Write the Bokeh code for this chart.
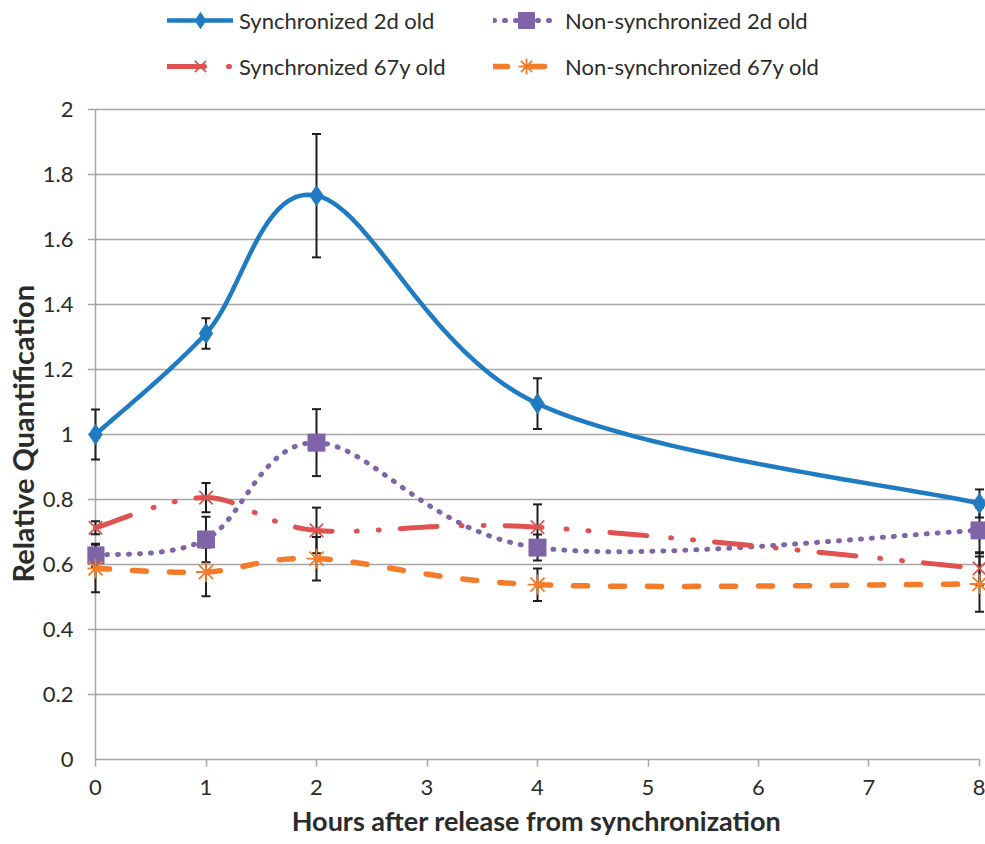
import numpy as np
from bokeh.plotting import figure
from bokeh.models import (Range1d, FixedTicker, Whisker, TeeHead, ColumnDataSource,
                          Legend, LegendItem, Title)
from bokeh.embed import file_html
from bokeh.resources import INLINE

# ---------------- data ----------------
hours = [0, 1, 2, 4, 8]

sync_2d = [1.000, 1.311, 1.735, 1.095, 0.788]
sync_2d_err = [0.077, 0.047, 0.190, 0.078, 0.043]

nonsync_2d = [0.628, 0.677, 0.975, 0.652, 0.705]
nonsync_2d_err = [0.036, 0.070, 0.103, 0.040, 0.070]

sync_67y = [0.713, 0.806, 0.705, 0.715, 0.588]
sync_67y_err = [0.020, 0.045, 0.070, 0.070, 0.050]

nonsync_67y = [0.588, 0.577, 0.618, 0.538, 0.540]
nonsync_67y_err = [0.073, 0.075, 0.067, 0.050, 0.085]

series_labels = ["Synchronized 2d old", "Non-synchronized 2d old",
                 "Synchronized 67y old", "Non-synchronized 67y old"]

x_ticks = [0, 1, 2, 3, 4, 5, 6, 7, 8]
y_ticks = [0, 0.2, 0.4, 0.6, 0.8, 1, 1.2, 1.4, 1.6, 1.8, 2]
y_tick_labels = ["0", "0.2", "0.4", "0.6", "0.8", "1", "1.2", "1.4", "1.6", "1.8", "2"]

x_title = "Hours after release from synchronization"
y_title = "Relative Quantification"

# --------------- helpers ---------------
def smooth(xs, ys, n=40):
    """Excel-like smoothed line (Catmull-Rom Bezier) through the data points."""
    P = np.column_stack([np.asarray(xs, float), np.asarray(ys, float)])
    outx, outy = [], []
    m = len(P)
    for i in range(m - 1):
        p0 = P[i - 1] if i > 0 else P[i]
        p1 = P[i]
        p2 = P[i + 1]
        p3 = P[i + 2] if i + 2 < m else P[i + 1]
        c1 = p1 + (p2 - p0) / 6.0
        c2 = p2 - (p3 - p1) / 6.0
        t = np.linspace(0, 1, n)
        if i > 0:
            t = t[1:]
        b = ((1 - t) ** 3)[:, None] * p1 + (3 * (1 - t) ** 2 * t)[:, None] * c1 \
            + (3 * (1 - t) * t ** 2)[:, None] * c2 + (t ** 3)[:, None] * p2
        outx.extend(b[:, 0].tolist())
        outy.extend(b[:, 1].tolist())
    return outx, outy

FONT = "Lato"
TXT = "#2b2b2b"
GRID = "#a6a6a6"

# frame spans the whole height above the x axis so the legend (drawn in the
# frame) is not clipped; 650 px correspond to the 0..2 value span
p = figure(width=985, height=844,
           x_range=Range1d(-0.0724, 8.0543), y_range=Range1d(0, 2.0 * 759 / 650),
           output_backend="svg", toolbar_location=None,
           min_border_left=87, min_border_right=0,
           min_border_top=0, min_border_bottom=85)
p.outline_line_color = None
p.background_fill_color = "white"

# axes
p.xaxis.ticker = FixedTicker(ticks=x_ticks)
p.xaxis.bounds = (x_ticks[0], x_ticks[-1])
p.xaxis.axis_line_color = GRID
p.xaxis.axis_line_width = 1.5
p.xaxis.major_tick_line_color = GRID
p.xaxis.major_tick_line_width = 1.5
p.xaxis.major_tick_out = 7
p.xaxis.major_tick_in = 0
p.xaxis.minor_tick_line_color = None
p.xaxis.major_label_standoff = 13
p.xaxis.major_label_text_font = FONT
p.xaxis.major_label_text_font_size = "22px"
p.xaxis.major_label_text_color = TXT
p.xaxis.axis_label = x_title
p.xaxis.axis_label_text_font = FONT
p.xaxis.axis_label_text_font_style = "bold"
p.xaxis.axis_label_text_font_size = "27px"
p.xaxis.axis_label_text_color = TXT
p.xaxis.axis_label_standoff = 6

p.yaxis.ticker = FixedTicker(ticks=y_ticks)
p.yaxis.bounds = (y_ticks[0], y_ticks[-1])
p.yaxis.major_label_overrides = {t: l for t, l in zip(y_ticks, y_tick_labels)}
p.yaxis.axis_line_color = None
p.yaxis.major_tick_line_color = None
p.yaxis.major_tick_out = 0
p.yaxis.major_tick_in = 0
p.yaxis.minor_tick_line_color = None
p.yaxis.major_label_standoff = 14
p.yaxis.major_label_text_font = FONT
p.yaxis.major_label_text_font_size = "22px"
p.yaxis.major_label_text_color = TXT

# y-axis title, placed along the 0..2 value span
ytitle = Title(text=y_title, align="left", offset=177, standoff=0,
               text_font=FONT, text_font_size="29px", text_font_style="bold",
               text_color=TXT)
p.add_layout(ytitle, "left")

p.xgrid.grid_line_color = None
p.ygrid.ticker = FixedTicker(ticks=y_ticks)
p.ygrid.grid_line_color = GRID
p.ygrid.grid_line_width = 1.5

# vertical axis line at x = 0, from the lowest to the highest y tick
p.segment(x0=[x_ticks[0]], y0=[y_ticks[0]], x1=[x_ticks[0]], y1=[y_ticks[-1]],
          line_color=GRID, line_width=1.5, level="underlay")

# error bars
ERR = "#1e1e1e"
for vals, errs in [(sync_2d, sync_2d_err), (nonsync_2d, nonsync_2d_err),
                   (sync_67y, sync_67y_err), (nonsync_67y, nonsync_67y_err)]:
    src = ColumnDataSource(dict(x=hours,
                                upper=[v + e for v, e in zip(vals, errs)],
                                lower=[v - e for v, e in zip(vals, errs)]))
    w = Whisker(source=src, base="x", upper="upper", lower="lower",
                line_color=ERR, line_width=2,
                upper_head=TeeHead(size=9, line_color=ERR, line_width=2),
                lower_head=TeeHead(size=9, line_color=ERR, line_width=2))
    p.add_layout(w)

styles = [
    dict(vals=sync_2d, color="#1f7bc2", dash="solid", lw=4.5, marker="diamond", size=20,
         mfill=True),
    dict(vals=nonsync_2d, color="#8064a8", dash="1 10", lw=5, marker="square", size=17,
         mfill=True),
    dict(vals=sync_67y, color="#e05252", dash="37 24 1 21 1 21", lw=5, marker="x", size=19,
         mfill=False),
    dict(vals=nonsync_67y, color="#f47b2a", dash="14 23", lw=5.5, marker="asterisk", size=20,
         mfill=False),
]

items = []
for lbl, st in zip(series_labels, styles):
    sx, sy = smooth(hours, st["vals"])
    lr = p.line(sx, sy, line_color=st["color"], line_width=st["lw"],
                line_dash=st["dash"], line_cap="round", line_join="round")
    if st["mfill"]:
        mr = p.scatter(hours, st["vals"], marker=st["marker"], size=st["size"],
                       fill_color=st["color"], line_color=st["color"], line_width=1)
    else:
        mr = p.scatter(hours, st["vals"], marker=st["marker"], size=st["size"],
                       line_color=st["color"], line_width=1.8)
    items.append(LegendItem(label=lbl, renderers=[lr, mr]))

legend = Legend(items=items, location=(80, 673), orientation="horizontal", ncols=2,
                glyph_width=66, glyph_height=40, label_height=40, label_width=248,
                label_standoff=6, spacing=6, padding=0, margin=0,
                border_line_color=None, background_fill_alpha=0,
                label_text_font=FONT, label_text_font_size="22px",
                label_text_color=TXT)
p.add_layout(legend)

open("out.html", "w").write(file_html(p, INLINE))
